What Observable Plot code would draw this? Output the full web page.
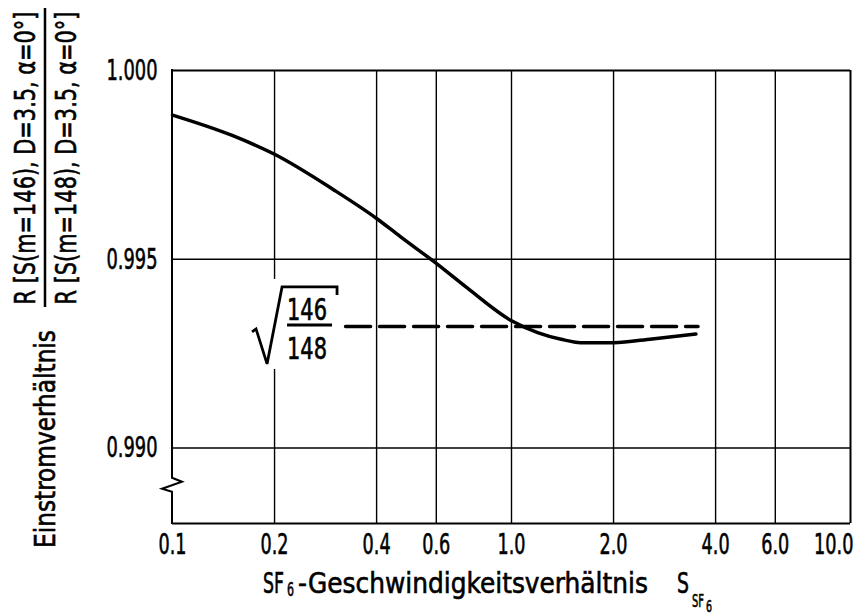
<!DOCTYPE html>
<html>
<head>
<meta charset="utf-8">
<script src="https://cdn.jsdelivr.net/npm/d3@7"></script>
<script src="https://cdn.jsdelivr.net/npm/@observablehq/plot@0.6"></script>
<style>
  html, body { margin: 0; padding: 0; background: #fff; }
  svg text { font-stretch: condensed; stroke: #000; stroke-width: 0.6px; }
</style>
</head>
<body>
<div id="chart"></div>
<script>
// ---- data ----
const xTicks = [0.1, 0.2, 0.4, 0.6, 1, 2, 4, 6, 10];
const xTickLabels = ["0.1", "0.2", "0.4", "0.6", "1.0", "2.0", "4.0", "6.0", "10.0"];
const xGrid = [0.2, 0.4, 0.6, 1, 2, 4, 6];
const yTicks = [0.990, 0.995, 1.000];
const yTickLabels = ["0.990", "0.995", "1.000"];
const yGrid = [0.990, 0.995];
const curveX = [0.1, 0.15, 0.2, 0.3, 0.4, 0.47, 0.6, 0.74, 1.0, 1.2, 1.4, 1.6, 2.0, 2.6, 3.5];
const curveY = [0.99882, 0.99828, 0.99778, 0.99683, 0.99608, 0.99560, 0.99489, 0.99424, 0.99337, 0.99305, 0.99288, 0.99279, 0.99279, 0.99289, 0.99302];
const sqrtRatio = Math.sqrt(146 / 148);
const dashX = [0.324, 3.55];
const xDomain = [0.1, 10];
const yDomain = [0.988, 1.000];
const breakY = 0.9892;

const FONT = "'DejaVu Sans', 'Liberation Sans', sans-serif";

const curve = curveX.map((x, i) => ({x, y: curveY[i]}));
const dashed = dashX.map(x => ({x, y: sqrtRatio}));
const xLabelRows = xTicks.map((x, i) => ({x, label: xTickLabels[i]}));

// text placed by transform; its width is fitted (horizontally scaled) once in the DOM
function ftext(g, tx, ty, size, str, len, rotate = 0, anchor = "start", dy = null) {
  const t = g.append("text")
    .attr("transform", `translate(${tx},${ty})` + (rotate ? ` rotate(${rotate})` : ""))
    .attr("text-anchor", anchor).attr("font-size", size).attr("data-len", len).text(str);
  if (dy) t.attr("dy", dy);
  return t;
}
function labelLen(s) {
  const digits = s.replace(/[^0-9]/g, "").length;
  return digits * 11.5 + (s.length - digits) * 5;
}

// custom marks
function sqrtLabel(index, {x, y}) {
  const ax = x(0.2), ay = y(sqrtRatio);
  const g = d3.create("svg:g").attr("font-family", FONT);
  g.append("rect").attr("x", ax - 4).attr("y", ay - 47).attr("width", 8).attr("height", 90).attr("fill", "white");
  g.append("path")
    .attr("d", `M${ax - 22},${ay + 6} L${ax - 18},${ay + 3} L${ax - 7},${ay + 38} L${ax + 8},${ay - 39} L${ax + 63},${ay - 39} L${ax + 63},${ay - 31}`)
    .attr("fill", "none").attr("stroke", "#000").attr("stroke-width", 2.8).attr("stroke-linejoin", "miter");
  g.append("line").attr("x1", ax + 13).attr("x2", ax + 58).attr("y1", ay - 1).attr("y2", ay - 1)
    .attr("stroke", "#000").attr("stroke-width", 3);
  ftext(g, ax + 13, ay - 6, 31, "146", 40);
  ftext(g, ax + 13, ay + 33, 31, "148", 40);
  return g.node();
}

function leftAxisWithBreak(index, {x, y}) {
  const ax = x(xDomain[0]);
  const yb = y(breakY);
  const g = d3.create("svg:g");
  g.append("path")
    .attr("d", `M${ax},${y(yDomain[1]) - 1} L${ax},${yb} L${ax + 10},${yb + 4} L${ax - 10},${yb + 11} L${ax},${yb + 14} L${ax},${y(yDomain[0]) + 1}`)
    .attr("fill", "none").attr("stroke", "#000").attr("stroke-width", 2).attr("stroke-linejoin", "miter");
  return g.node();
}

function titles() {
  const g = d3.create("svg:g").attr("font-family", FONT).attr("fill", "#000");
  // x title
  ftext(g, 263, 593, 29, "SF", 21);
  ftext(g, 287, 596, 19, "6", 7);
  ftext(g, 298, 593, 29, "-Geschwindigkeitsverhältnis", 350);
  ftext(g, 677, 593, 29, "S", 12);
  ftext(g, 692, 607, 18, "SF", 12);
  ftext(g, 706, 612, 16, "6", 6);
  // y title (rotated)
  ftext(g, 25, 158, 29, "R [S(m=146), D=3.5, α=0°]", 293, -90, "middle", "0.36em");
  g.append("line").attr("x1", 45).attr("x2", 45).attr("y1", 8).attr("y2", 307)
    .attr("stroke", "#000").attr("stroke-width", 2.5);
  ftext(g, 66, 158, 29, "R [S(m=148), D=3.5, α=0°]", 293, -90, "middle", "0.36em");
  ftext(g, 45, 439, 29, "Einstromverhältnis", 218, -90, "middle", "0.36em");
  return g.node();
}

const near = (arr, d) => arr.findIndex(v => Math.abs(v - d) < 1e-6 * Math.max(1, Math.abs(v)));
const yFmt = d => yTickLabels[near(yTicks, d)];

const plot = Plot.plot({
  width: 864,
  height: 615,
  marginLeft: 172,
  marginRight: 14,
  marginTop: 70,
  marginBottom: 92,
  style: {fontFamily: FONT, fontSize: "29px", background: "#fff", color: "#000"},
  x: {type: "log", domain: xDomain, axis: null},
  y: {domain: yDomain},
  marks: [
    Plot.ruleX(xGrid, {stroke: "#000", strokeWidth: 1.4}),
    Plot.ruleY(yGrid, {stroke: "#000", strokeWidth: 1.4}),
    Plot.ruleY([yDomain[1]], {stroke: "#000", strokeWidth: 2}),
    Plot.ruleY([yDomain[0]], {stroke: "#000", strokeWidth: 2}),
    Plot.ruleX([xDomain[1]], {stroke: "#000", strokeWidth: 2}),
    leftAxisWithBreak,
    sqrtLabel,
    Plot.line(dashed, {x: "x", y: "y", stroke: "#000", strokeWidth: 3.5, strokeDasharray: "25,9"}),
    Plot.line(curve, {x: "x", y: "y", stroke: "#000", strokeWidth: 3.5, curve: "monotone-x"}),
    Plot.axisY({ticks: yTicks, tickFormat: yFmt, tickSize: 0, tickPadding: 15, fontSize: 29, label: null}),
    Plot.text(xLabelRows.slice(0, -1), {x: "x", y: () => yDomain[0], text: "label", lineAnchor: "top", dy: 10, fontSize: 29}),
    Plot.text(xLabelRows.slice(-1), {x: "x", y: () => yDomain[0], text: "label", lineAnchor: "top", dy: 10, dx: 3, textAnchor: "end", fontSize: 29}),
    titles
  ]
});
document.getElementById("chart").appendChild(plot);

// tick labels get the narrow width of the original lettering
d3.select(plot).selectAll("text").each(function() {
  if (!this.hasAttribute("data-len") && /^[0-9.]+$/.test(this.textContent)) {
    this.setAttribute("data-len", labelLen(this.textContent));
  }
});
// horizontally condense each text to its target width
d3.select(plot).selectAll("text[data-len]").each(function() {
  const target = +this.getAttribute("data-len");
  const natural = this.getComputedTextLength();
  if (!natural) return;
  const s = target / natural;
  let tr = this.getAttribute("transform") || "";
  if (!tr) {
    const x = +(this.getAttribute("x") || 0), y = +(this.getAttribute("y") || 0);
    this.removeAttribute("x"); this.removeAttribute("y");
    tr = `translate(${x},${y})`;
  }
  this.setAttribute("transform", `${tr} scale(${s},1)`);
});
</script>
</body>
</html>
